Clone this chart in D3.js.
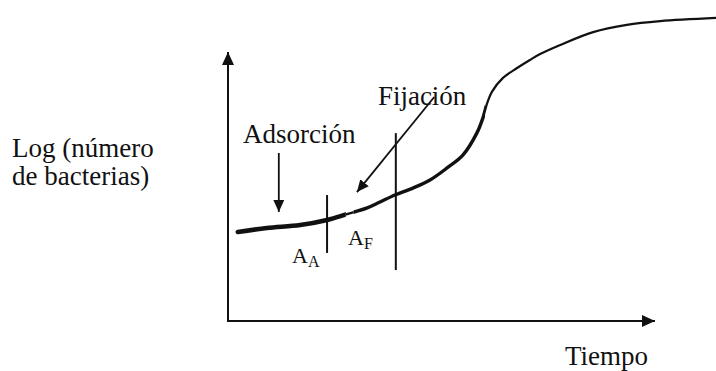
<!DOCTYPE html>
<html>
<head>
<meta charset="utf-8">
<script src="https://cdn.jsdelivr.net/npm/d3@7"></script>
<style>
  html, body { margin: 0; padding: 0; background: #fff; }
  svg { display: block; }
  text { font-family: "Liberation Serif", "Times New Roman", serif; fill: #111; }
</style>
</head>
<body>
<svg id="chart" width="716" height="371"></svg>
<script>
// Growth curve: time (arbitrary units) vs log of bacteria count
const time = [2.3, 9.1, 16.9, 23.2, 27.9, 32.6, 35.6, 39.1, 43.3, 47.3, 51.3, 55.0, 58.3, 59.7, 60.7, 61.8, 64.4, 67.7, 70.7, 73.1, 77.8, 85.5, 93.4, 101.2, 114.3];
const logN = [33.2, 34.7, 35.8, 37.7, 39.9, 42.2, 44.4, 47.0, 49.6, 52.6, 57.1, 61.9, 70.2, 75.8, 81.3, 85.5, 90.7, 94.4, 97.4, 99.6, 103.0, 107.8, 110.5, 111.9, 113.1];

// Phase markers (vertical lines) and their labels
const markerTime = [23.2, 39.3];
const markerTop = [47.0, 70.1];
const markerBottom = [25.4, 19.0];
const markerLabel = ["A", "A"];
const markerSub = ["A", "F"];
const labelTime = [15.0, 28.1];
const labelLog = [21.6, 28.4];

// Annotation arrows
const annText = ["Adsorción", "Fijación"];
const annTextTime = [3.5, 35.1];
const annTextLog = [66.4, 80.6];
const arrowFromTime = [11.9, 48.3];
const arrowFromLog = [62.7, 83.6];
const arrowToTime = [11.9, 30.2];
const arrowToLog = [40.7, 48.1];

// Axis titles
const yTitle = ["Log (número", "de bacterias)"];
const xTitle = "Tiempo";

const svg = d3.select("#chart");
const x = d3.scaleLinear().domain([0, 100]).range([228, 655]);
const y = d3.scaleLinear().domain([0, 100]).range([321, 53]);

const defs = svg.append("defs");
function marker(id, w, h) {
  defs.append("marker")
    .attr("id", id)
    .attr("viewBox", `0 0 ${h} ${w}`)
    .attr("refX", h).attr("refY", w / 2)
    .attr("markerWidth", h).attr("markerHeight", w)
    .attr("markerUnits", "userSpaceOnUse")
    .attr("orient", "auto")
    .append("path")
    .attr("d", `M0,0 L${h},${w / 2} L0,${w} Z`)
    .attr("fill", "#111");
}
marker("axisHead", 12, 13);
marker("annHead", 11, 12);

// Axes (plain arrows, no ticks)
const axisG = svg.append("g");
axisG.append("line")
  .attr("x1", x(0)).attr("y1", y(0))
  .attr("x2", x(0)).attr("y2", y(100) - 1)
  .attr("stroke", "#111").attr("stroke-width", 2)
  .attr("marker-end", "url(#axisHead)");
axisG.append("line")
  .attr("x1", x(0) - 1).attr("y1", y(0))
  .attr("x2", x(100)).attr("y2", y(0))
  .attr("stroke", "#111").attr("stroke-width", 2)
  .attr("marker-end", "url(#axisHead)");

// Curve
const pts = time.map((t, i) => [t, logN[i]]);
const line = d3.line()
  .x(d => x(d[0]))
  .y(d => y(d[1]))
  .curve(d3.curveCatmullRom.alpha(0.5));
const pathD = line(pts);

// stroke width varies along the time axis
const bands = [
  { from: -10, to: 27.6, w: 4.6 },
  { from: 27.6, to: 29.4, w: 2.4 },
  { from: 29.4, to: 60.2, w: 3.4 },
  { from: 60.2, to: 130, w: 2.2 }
];
bands.forEach((b, i) => {
  defs.append("clipPath").attr("id", "band" + i)
    .append("rect")
    .attr("x", x(b.from)).attr("y", 0)
    .attr("width", x(b.to) - x(b.from)).attr("height", 371);
  svg.append("path")
    .attr("d", pathD)
    .attr("fill", "none")
    .attr("stroke", "#111")
    .attr("stroke-width", b.w)
    .attr("stroke-linecap", "round")
    .attr("clip-path", `url(#band${i})`);
});

// Phase marker lines
svg.selectAll("line.phase")
  .data(markerTime)
  .join("line")
  .attr("class", "phase")
  .attr("x1", d => x(d)).attr("x2", d => x(d))
  .attr("y1", (d, i) => y(markerTop[i]))
  .attr("y2", (d, i) => y(markerBottom[i]))
  .attr("stroke", "#111").attr("stroke-width", 2);

// Phase labels with subscripts
const lbl = svg.selectAll("text.phase")
  .data(markerLabel)
  .join("text")
  .attr("class", "phase")
  .attr("x", (d, i) => x(labelTime[i]))
  .attr("y", (d, i) => y(labelLog[i]))
  .attr("font-size", 22);
lbl.append("tspan").text(d => d);
lbl.append("tspan")
  .attr("font-size", 16)
  .attr("dy", 4)
  .text((d, i) => markerSub[i]);

// Annotation arrows and texts
svg.selectAll("line.ann")
  .data(annText)
  .join("line")
  .attr("class", "ann")
  .attr("x1", (d, i) => x(arrowFromTime[i]))
  .attr("y1", (d, i) => y(arrowFromLog[i]))
  .attr("x2", (d, i) => x(arrowToTime[i]))
  .attr("y2", (d, i) => y(arrowToLog[i]))
  .attr("stroke", "#111").attr("stroke-width", 1.8)
  .attr("marker-end", "url(#annHead)");

svg.selectAll("text.ann")
  .data(annText)
  .join("text")
  .attr("class", "ann")
  .attr("x", (d, i) => x(annTextTime[i]))
  .attr("y", (d, i) => y(annTextLog[i]))
  .attr("font-size", 27)
  .text(d => d);

// Axis titles
svg.selectAll("text.ytitle")
  .data(yTitle)
  .join("text")
  .attr("class", "ytitle")
  .attr("x", 12)
  .attr("y", (d, i) => 157 + i * 28)
  .attr("font-size", 27)
  .text(d => d);

svg.append("text")
  .attr("x", 565).attr("y", 365)
  .attr("font-size", 27)
  .text(xTitle);
</script>
</body>
</html>
